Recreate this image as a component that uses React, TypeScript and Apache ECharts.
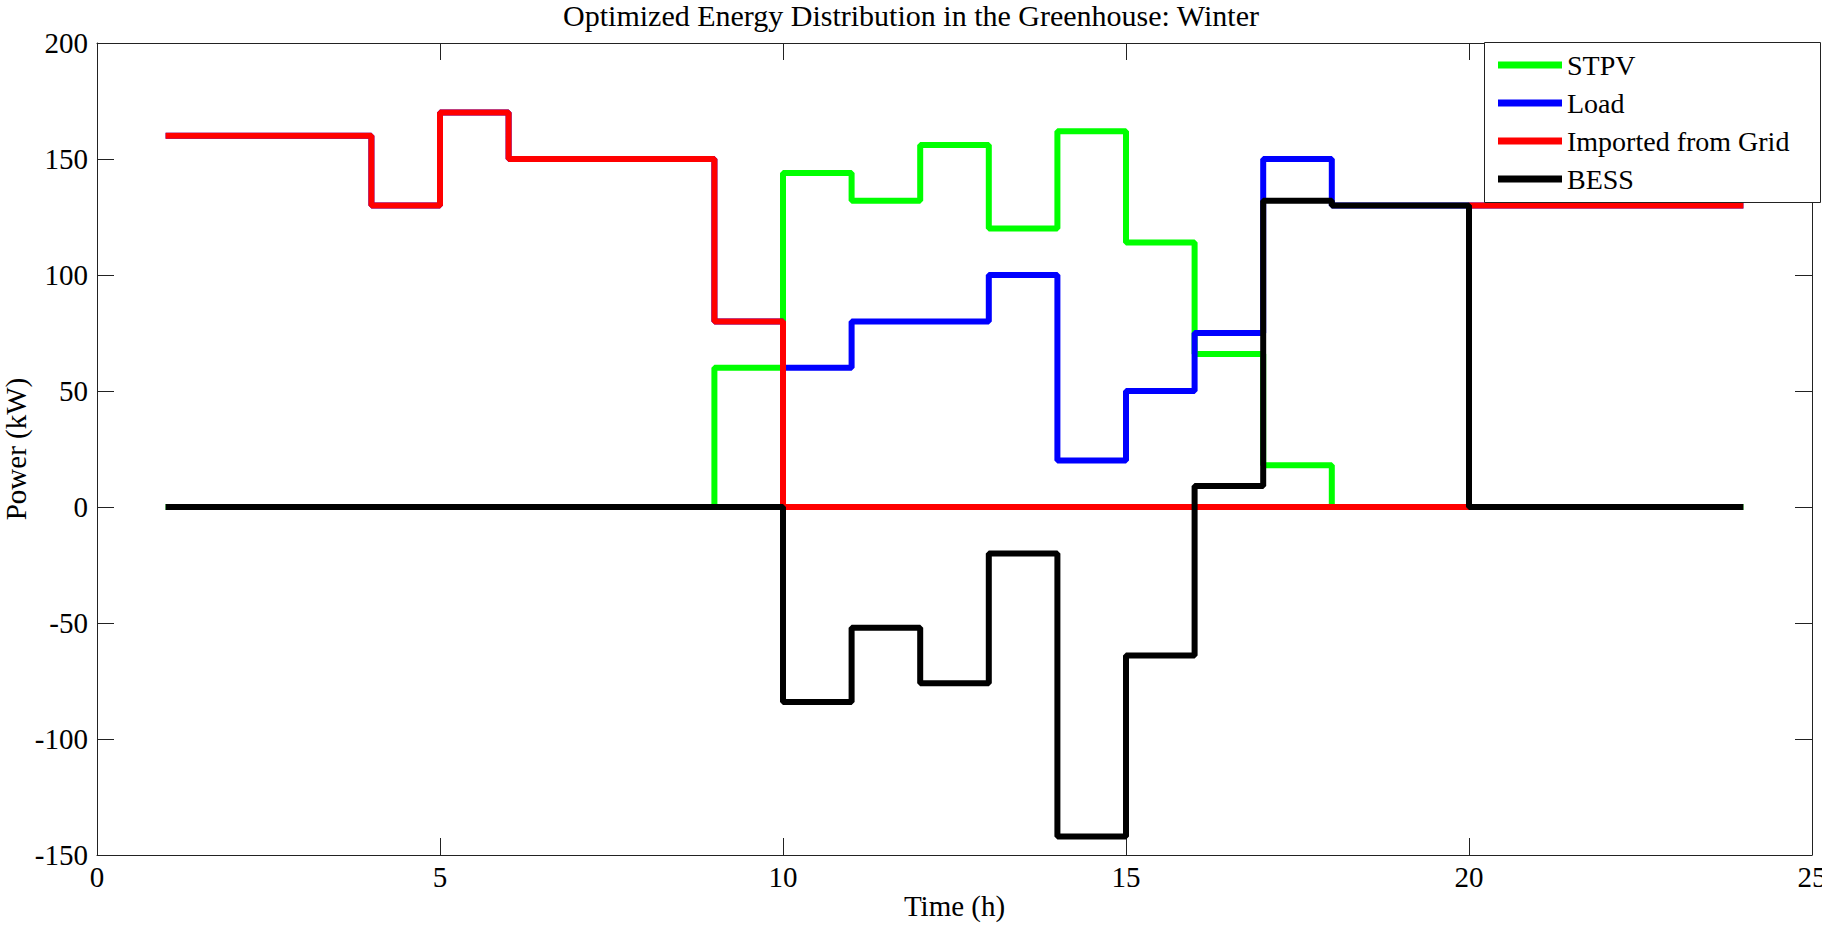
import React, { useEffect, useRef } from 'react';
import * as echarts from 'echarts';

// Hours (x values) of the stairs plot
const hours = [1, 2, 3, 4, 5, 6, 7, 8, 9, 10, 11, 12, 13, 14, 15, 16, 17, 18, 19, 20, 21, 22, 23, 24];

// Series values (kW)
const stpv = [0, 0, 0, 0, 0, 0, 0, 0, 60, 144, 132, 156, 120, 162, 114, 66, 18, 0, 0, 0, 0, 0, 0, 0];
const load = [160, 160, 160, 130, 170, 150, 150, 150, 80, 60, 80, 80, 100, 20, 50, 75, 150, 130, 130, 130, 130, 130, 130, 130];
const grid = [160, 160, 160, 130, 170, 150, 150, 150, 80, 0, 0, 0, 0, 0, 0, 0, 0, 0, 0, 130, 130, 130, 130, 130];
const bess = [0, 0, 0, 0, 0, 0, 0, 0, 0, -84, -52, -76, -20, -142, -64, 9, 132, 130, 130, 0, 0, 0, 0, 0];

const seriesNames = ['STPV', 'Load', 'Imported from Grid', 'BESS'];
const seriesColors = ['#00ff00', '#0000ff', '#ff0000', '#000000'];

const xMin = 0;
const xMax = 25;
const xStep = 5;
const yMin = -150;
const yMax = 200;
const yStep = 50;

const titleText = 'Optimized Energy Distribution in the Greenhouse: Winter';
const xName = 'Time (h)';
const yName = 'Power (kW)';

const FONT = "'Liberation Serif', 'Times New Roman', serif";
const FS = 29;

export default function App() {
  const ref = useRef<HTMLDivElement>(null);

  useEffect(() => {
    document.body.style.margin = '0';
    const chart = echarts.init(ref.current as HTMLDivElement, null, { renderer: 'svg' });
    const axisColor = '#222';
    const lineStyle = { color: axisColor, width: 1 };
    const pair = (ys: number[]) => hours.map((h, i) => [h, ys[i]]);
    const allValues = [stpv, load, grid, bess];

    const boxAxis = (extra: any) => ({
      type: 'value',
      axisLine: { show: true, onZero: false, lineStyle },
      axisTick: { show: true, inside: true, length: 17, lineStyle },
      splitLine: { show: false },
      ...extra,
    });

    chart.setOption({
      animation: false,
      grid: { left: 97, right: 10, top: 43, bottom: 71, outerBoundsMode: 'none', containLabel: false },
      xAxis: [
        boxAxis({
          min: xMin, max: xMax, interval: xStep, position: 'bottom',
          name: xName, nameLocation: 'middle', nameGap: 36, nameMoveOverlap: false,
          nameTextStyle: { fontFamily: FONT, fontSize: FS, color: '#000' },
          axisLabel: { margin: 7, fontFamily: FONT, fontSize: FS, color: '#000' },
        }),
        boxAxis({
          min: xMin, max: xMax, interval: xStep, position: 'top',
          axisLabel: { show: false },
        }),
      ],
      yAxis: [
        boxAxis({
          min: yMin, max: yMax, interval: yStep, position: 'left',
          name: yName, nameLocation: 'middle', nameGap: 67, nameMoveOverlap: false,
          nameTextStyle: { fontFamily: FONT, fontSize: FS, color: '#000' },
          axisLabel: { margin: 9, fontFamily: FONT, fontSize: FS, color: '#000' },
        }),
        boxAxis({
          min: yMin, max: yMax, interval: yStep, position: 'right',
          axisLabel: { show: false },
        }),
      ],
      legend: {
        data: seriesNames,
        orient: 'vertical',
        left: 1498,
        top: 50,
        padding: 0,
        itemWidth: 64,
        itemHeight: 7,
        itemGap: 8,
        icon: 'rect',
        selectedMode: false,
        z: 300,
        textStyle: { fontFamily: FONT, fontSize: 28, color: '#000', lineHeight: 30 },
      },
      graphic: [
        {
          type: 'text',
          x: 911,
          y: 15,
          z: 100,
          style: {
            text: titleText,
            fontFamily: FONT,
            fontSize: 30,
            fill: '#000',
            align: 'center',
            verticalAlign: 'middle',
          },
        },
        {
          type: 'rect',
          z: 100,
          shape: { x: 1484.5, y: 42.5, width: 336, height: 160 },
          style: { fill: '#fff', stroke: axisColor, lineWidth: 1 },
        },
      ],
      series: seriesNames.map((name, k) => ({
        name,
        type: 'line',
        step: 'end',
        data: pair(allValues[k]),
        showSymbol: false,
        symbol: 'none',
        lineStyle: { color: seriesColors[k], width: 6 },
        itemStyle: { color: seriesColors[k] },
        emphasis: { disabled: true },
      })),
    });

    return () => chart.dispose();
  }, []);

  return <div ref={ref} style={{ width: 1822, height: 926 }} />;
}
